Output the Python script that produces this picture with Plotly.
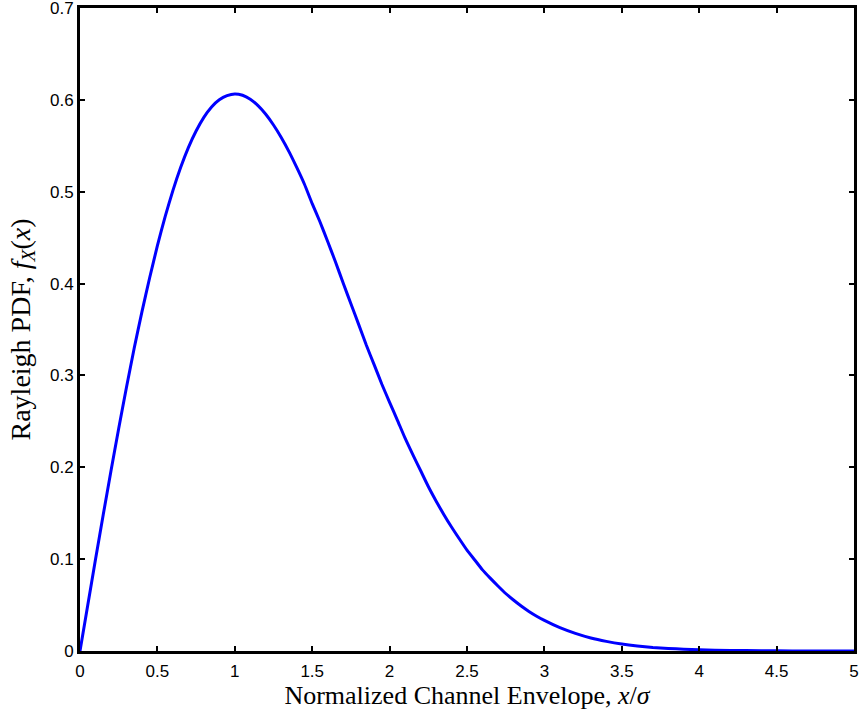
import plotly.graph_objects as go

# Values
x_vals = [0.0, 0.05, 0.1, 0.15, 0.2, 0.25, 0.3, 0.35, 0.4, 0.45, 0.5, 0.55, 0.6, 0.65, 0.7,
          0.75, 0.8, 0.85, 0.9, 0.95, 1.0, 1.05, 1.1, 1.15, 1.2, 1.25, 1.3, 1.35, 1.4,
          1.45, 1.5, 1.55, 1.6, 1.65, 1.7, 1.75, 1.8, 1.85, 1.9, 1.95, 2.0, 2.05, 2.1,
          2.15, 2.2, 2.25, 2.3, 2.35, 2.4, 2.45, 2.5, 2.55, 2.6, 2.65, 2.7, 2.75, 2.8,
          2.85, 2.9, 2.95, 3.0, 3.1, 3.2, 3.3, 3.4, 3.5, 3.6, 3.7, 3.8, 3.9, 4.0,
          4.2, 4.4, 4.6, 4.8, 5.0]
y_vals = [0.0, 0.0499, 0.0995, 0.1483, 0.1960, 0.2423, 0.2869, 0.3295, 0.3692, 0.4063,
          0.4412, 0.4729, 0.5012, 0.5263, 0.5480, 0.5661, 0.5810, 0.5923, 0.6001, 0.6046,
          0.6065, 0.6050, 0.6007, 0.5937, 0.5843, 0.5726, 0.5590, 0.5436, 0.5264, 0.5081,
          0.4870, 0.4673, 0.4458, 0.4238, 0.4006, 0.3780, 0.3556, 0.3328, 0.3118, 0.2904,
          0.2707, 0.2514, 0.2317, 0.2138, 0.1965, 0.1791, 0.1634, 0.1487, 0.1350, 0.1222,
          0.1098, 0.0991, 0.0883, 0.0793, 0.0708, 0.0626, 0.0555, 0.0490, 0.0431, 0.0379,
          0.0333, 0.0254, 0.0192, 0.0142, 0.0105, 0.0076, 0.0055, 0.0039, 0.0028, 0.0019,
          0.0013, 0.0006, 0.0003, 0.0001, 0.00005, 0.0]

x_ticks = [0, 0.5, 1, 1.5, 2, 2.5, 3, 3.5, 4, 4.5, 5]
x_tick_labels = ["0", "0.5", "1", "1.5", "2", "2.5", "3", "3.5", "4", "4.5", "5"]
y_ticks = [0, 0.1, 0.2, 0.3, 0.4, 0.5, 0.6, 0.7]
y_tick_labels = ["0", "0.1", "0.2", "0.3", "0.4", "0.5", "0.6", "0.7"]

x_title = "Normalized Channel Envelope, <i>x</i>/<i>σ</i>"
y_title = "Rayleigh PDF, <i>f</i><sub><i>X</i></sub>(<i>x</i>)"

fig = go.Figure()
fig.add_trace(go.Scatter(x=x_vals, y=y_vals, mode="lines",
                         line=dict(color="rgb(0,0,255)", width=3, shape="spline", smoothing=0.5),
                         showlegend=False))

tick_font = dict(family="Liberation Sans, Arial, sans-serif", size=17, color="black")
x_title_font = dict(family="Liberation Serif, Times New Roman, serif", size=26, color="black")
y_title_font = dict(family="Liberation Serif, Times New Roman, serif", size=28, color="black")

fig.update_layout(
    width=862, height=719,
    margin=dict(l=80, r=8, t=8, b=68),
    paper_bgcolor="white", plot_bgcolor="white",
    xaxis=dict(range=[0, 5], tickvals=x_ticks, ticktext=x_tick_labels, automargin=False,
               showgrid=False, zeroline=False, showline=True, linecolor="black",
               linewidth=3, mirror="ticks", ticks="inside", ticklen=5, tickwidth=2,
               tickcolor="black", tickfont=tick_font, ticklabeloverflow="allow",
               ticklabelstandoff=3,
               title=dict(text=x_title, font=x_title_font, standoff=0)),
    yaxis=dict(range=[0, 0.7], tickvals=y_ticks, ticktext=y_tick_labels, automargin=False,
               showgrid=False, zeroline=False, showline=True, linecolor="black",
               linewidth=3, mirror="ticks", ticks="inside", ticklen=5, tickwidth=2,
               tickcolor="black", tickfont=tick_font, ticklabeloverflow="allow"),
    annotations=[dict(text=y_title, xref="paper", yref="paper", x=0, y=0.5,
                      xanchor="center", yanchor="middle", xshift=-58, textangle=-90,
                      showarrow=False, font=y_title_font)],
)

fig.write_html("out.html")
